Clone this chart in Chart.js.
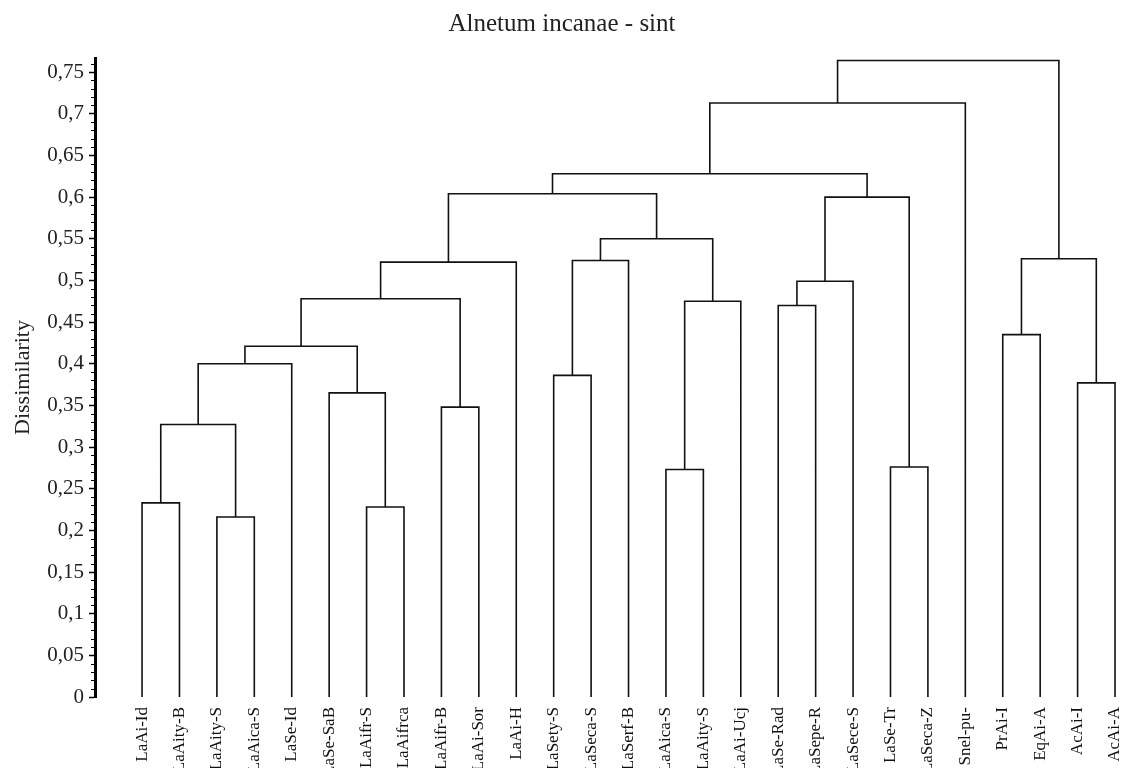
<!DOCTYPE html>
<html>
<head>
<meta charset="utf-8">
<script src="https://cdn.jsdelivr.net/npm/chart.js@4/dist/chart.umd.min.js"></script>
<style>
  html, body { margin: 0; padding: 0; background: #fff; }
  #wrap { width: 1124px; height: 768px; }
</style>
</head>
<body>
<div id="wrap"><canvas id="dendro"></canvas></div>
<script>
// leaves, left to right
const leafLabels = [
  'LaAi-Id', 'LaAity-B', 'LaAity-S', 'LaAica-S', 'LaSe-Id', 'LaSe-SaB',
  'LaAifr-S', 'LaAifrca', 'LaAifr-B', 'LaAi-Sor', 'LaAi-H', 'LaSety-S',
  'LaSeca-S', 'LaSerf-B', 'LaAica-S', 'LaAity-S', 'LaAi-Ucj', 'LaSe-Rad',
  'LaSepe-R', 'LaSece-S', 'LaSe-Tr', 'LaSeca-Z', 'Snel-pu-', 'PrAi-I',
  'EqAi-A', 'AcAi-I', 'AcAi-A'
];

// merges: index < 27 is a leaf, index >= 27 is merge number (index - 27)
const mergeA = [0, 2, 27, 29, 6, 5, 30, 8, 33, 35, 11, 37, 14, 39, 38, 17, 42, 20, 43, 36, 46, 47, 23, 25, 49, 48];
const mergeB = [1, 3, 28, 4, 7, 31, 32, 9, 34, 10, 12, 13, 15, 16, 40, 18, 19, 21, 44, 41, 45, 22, 24, 26, 50, 51];
const mergeHeight = [0.233, 0.216, 0.327, 0.400, 0.228, 0.365, 0.421, 0.348, 0.478, 0.522,
                     0.386, 0.524, 0.273, 0.475, 0.550, 0.470, 0.499, 0.276, 0.600, 0.604,
                     0.628, 0.713, 0.435, 0.377, 0.526, 0.764];

const yTicks = [0, 0.05, 0.1, 0.15, 0.2, 0.25, 0.3, 0.35, 0.4, 0.45, 0.5, 0.55, 0.6, 0.65, 0.7, 0.75];

const n = leafLabels.length;
const nodeX = [], nodeH = [];
leafLabels.forEach((_, i) => { nodeX[i] = i; nodeH[i] = 0; });

// each merge is drawn as an upside-down U, null breaks the line
const segs = [];
mergeA.forEach((a, k) => {
  const b = mergeB[k];
  const h = mergeHeight[k];
  segs.push({ x: nodeX[a], y: nodeH[a] });
  segs.push({ x: nodeX[a], y: h });
  segs.push({ x: nodeX[b], y: h });
  segs.push({ x: nodeX[b], y: nodeH[b] });
  segs.push({ x: nodeX[b], y: null });
  nodeX[n + k] = (nodeX[a] + nodeX[b]) / 2;
  nodeH[n + k] = h;
});

// small ticks between the labelled ones
const minorTicks = {
  id: 'minorTicks',
  afterDraw(chart) {
    const s = chart.scales.y;
    const ctx = chart.ctx;
    ctx.save();
    ctx.strokeStyle = '#000';
    ctx.lineWidth = 1;
    for (let i = 1; i < 77; i++) {
      if (i % 5 === 0) continue;
      const y = Math.round(s.getPixelForValue(i / 100)) + 0.5;
      ctx.beginPath();
      ctx.moveTo(s.right - 4, y);
      ctx.lineTo(s.right, y);
      ctx.stroke();
    }
    ctx.restore();
  }
};

new Chart(document.getElementById('dendro'), {
  type: 'line',
  data: {
    datasets: [{
      data: segs,
      borderColor: '#111',
      borderWidth: 1.6,
      pointRadius: 0,
      spanGaps: false,
      tension: 0
    }]
  },
  options: {
    responsive: true,
    maintainAspectRatio: false,
    animation: false,
    layout: { padding: 0 },
    plugins: {
      legend: { display: false },
      tooltip: { enabled: false },
      title: {
        display: true,
        text: 'Alnetum incanae - sint',
        color: '#222',
        font: { family: 'Liberation Serif', size: 25, weight: 'normal' },
        padding: { top: 9, bottom: 19 }
      }
    },
    scales: {
      x: {
        type: 'linear',
        min: -1.257,
        max: 26.24,
        afterBuildTicks: s => { s.ticks = leafLabels.map((_, i) => ({ value: i })); },
        afterFit: s => { s.height = 71; s.paddingRight = 0; s.paddingLeft = 0; },
        grid: { display: false },
        border: { display: false },
        ticks: {
          autoSkip: false,
          maxRotation: 90,
          minRotation: 90,
          padding: 2,
          color: '#111',
          font: { family: 'Liberation Serif', size: 17 },
          callback: v => leafLabels[v]
        }
      },
      y: {
        min: 0,
        max: 0.767,
        afterBuildTicks: s => { s.ticks = yTicks.map(v => ({ value: v })); },
        afterFit: s => { s.width = 95; },
        grid: { drawOnChartArea: false, tickLength: 6, color: '#000', tickWidth: 1.5 },
        border: { display: true, color: '#000', width: 3 },
        ticks: {
          color: '#222',
          padding: 5,
          font: { family: 'Liberation Serif', size: 21 },
          callback: v => String(+v.toFixed(2)).replace('.', ',')
        },
        title: {
          display: true,
          text: 'Dissimilarity',
          color: '#222',
          font: { family: 'Liberation Serif', size: 22 },
          padding: { top: 10, bottom: 0 }
        }
      }
    }
  },
  plugins: [minorTicks]
});
</script>
</body>
</html>
